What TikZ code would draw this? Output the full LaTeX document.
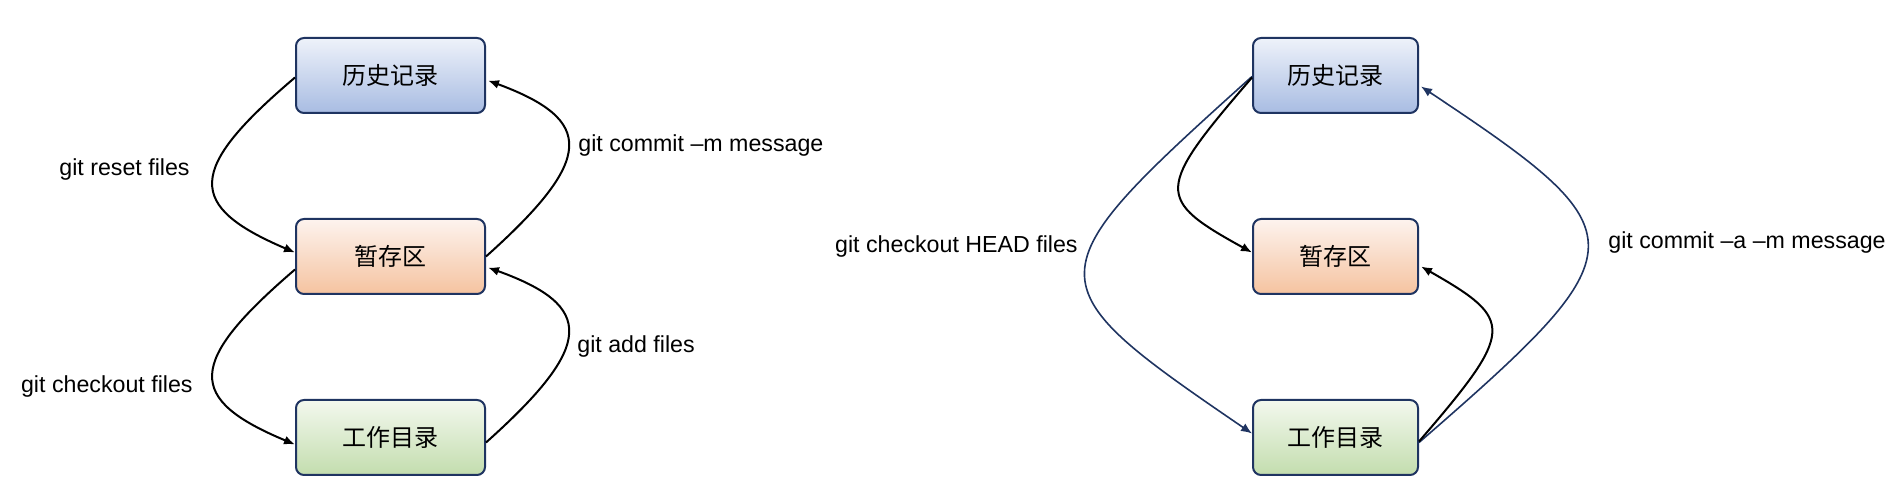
\documentclass[tikz,border=0pt]{standalone}
\usepackage{fontspec}
\setmainfont{Liberation Sans}
\newfontfamily\cjk{Noto Sans CJK SC}
\usetikzlibrary{arrows.meta,calc}
\definecolor{navy}{HTML}{1F3461}
\definecolor{btop}{HTML}{EEF2FA}
\definecolor{bbot}{HTML}{A8BCE2}
\definecolor{otop}{HTML}{FDF3EE}
\definecolor{obot}{HTML}{F5C3A0}
\definecolor{gtop}{HTML}{F3F8EE}
\definecolor{gbot}{HTML}{C3DDAE}
\tikzset{
  box/.style={draw=navy, line width=1pt, rounded corners=4pt, minimum height=37.5pt, inner sep=0pt, font=\cjk\fontsize{12}{14}\selectfont},
  lbox/.style={box, minimum width=94.5pt},
  rbox/.style={box, minimum width=82.5pt},
  hist/.style={top color=btop, bottom color=bbot},
  stage/.style={top color=otop, bottom color=obot},
  work/.style={top color=gtop, bottom color=gbot},
  conn/.style={line width=1pt, black, -{Latex[length=5.5pt,width=4.5pt]}},
  nconn/.style={line width=0.8pt, navy, -{Latex[length=5.5pt,width=4.5pt]}},
  lab/.style={font=\fontsize{11.6}{13}\selectfont, inner sep=0pt}
}
\begin{document}
\begin{tikzpicture}[x=0.5pt,y=-0.5pt]
\useasboundingbox (0,0) rectangle (1890,501);
% left diagram
\node[lbox,hist]  (L1) at (390.5,75.5)  {历史记录};
\node[lbox,stage] (L2) at (390.5,256.5) {暂存区};
\node[lbox,work]  (L3) at (390.5,437.5) {工作目录};
% right diagram
\node[rbox,hist]  (R1) at (1335.5,75.5)  {历史记录};
\node[rbox,stage] (R2) at (1335.5,256.5) {暂存区};
\node[rbox,work]  (R3) at (1335.5,437.5) {工作目录};
% labels
\node[lab,anchor=east] (t1) at (190,170) {git reset files};
\node[lab,anchor=east] (t2) at (193,387) {git checkout files};
\node[lab,anchor=west] (t3) at (578,146) {git commit –m message};
\node[lab,anchor=west] (t4) at (577,347) {git add files};
\node[lab,anchor=east] (t5) at (1078,247) {git checkout HEAD files};
\node[lab,anchor=west] (t6) at (1608,243) {git commit –a –m message};
% left connectors
\draw[conn] ($(L1.west)+(0,2)$) .. controls (186,170) and (186,206) .. ($(L2.west)+(0,-4)$);
\draw[conn] ($(L2.west)+(0,13)$) .. controls (186,363) and (186,399) .. ($(L3.west)+(0,7)$);
\draw[conn] (L2.east) .. controls (595,159) and (595,120) .. ($(L1.east)+(2,5)$);
\draw[conn] ($(L3.east)+(0,5)$) .. controls (595,345) and (595,306) .. ($(L2.east)+(2,11)$);
% right connectors
\draw[nconn] ($(R1.west)+(0,1)$) .. controls (1030,276) and (1030,282) .. ($(R3.west)+(0,-4)$);
\draw[conn] ($(R1.west)+(0,2)$) .. controls (1155,190) and (1155,199) .. ($(R2.west)+(0,-4)$);
\draw[nconn] ($(R3.east)+(0,5)$) .. controls (1643,248) and (1643,234) .. ($(R1.east)+(2,11)$);
\draw[conn] ($(R3.east)+(0,4)$) .. controls (1515,330) and (1515,320) .. ($(R2.east)+(2,10)$);
\end{tikzpicture}
\end{document}
